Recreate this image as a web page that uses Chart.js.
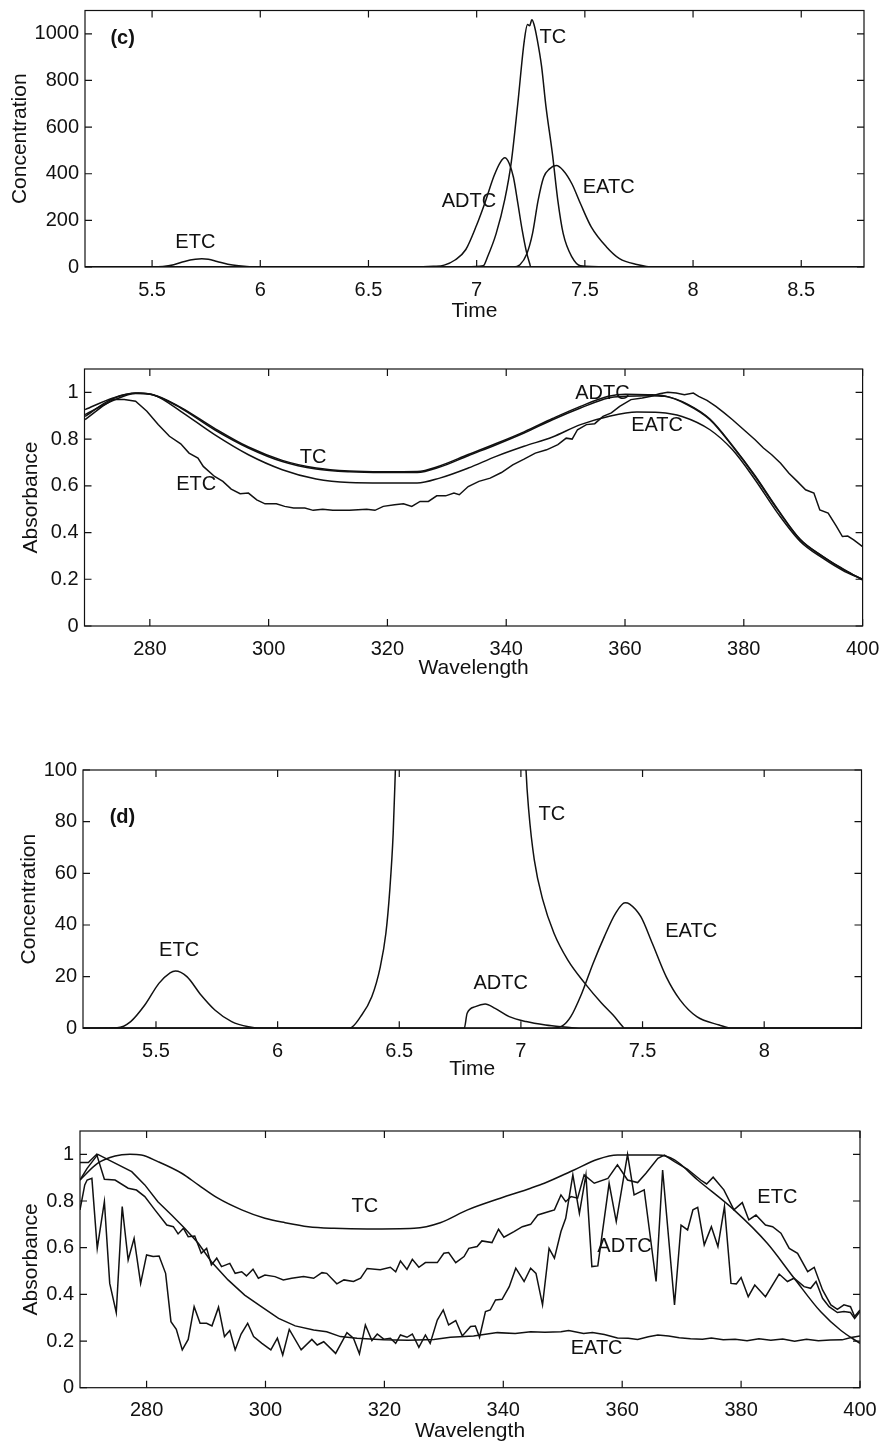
<!DOCTYPE html>
<html>
<head>
<meta charset="utf-8">
<script src="https://cdn.jsdelivr.net/npm/chart.js@4.4.1/dist/chart.umd.min.js"></script>
<style>
html, body { margin: 0; padding: 0; background: #fff; width: 883px; height: 1443px; overflow: hidden; }
canvas { position: absolute; left: 0; }
</style>
</head>
<body>
<canvas id="p1"></canvas>
<canvas id="p2"></canvas>
<canvas id="p3"></canvas>
<canvas id="p4"></canvas>
<script>
// ---- (c) concentration profiles ----
const etcTimeC = [5.19, 5.5, 5.55, 5.6, 5.65, 5.7, 5.73, 5.76, 5.8, 5.85, 5.9, 5.95, 6.0, 8.79]
const etcConcC = [0, 0, 2, 10, 24, 33, 35, 33, 24, 12, 5, 1, 0, 0]
const adtcTimeC = [5.19, 6.7, 6.8, 6.85, 6.9, 6.95, 7.0, 7.04, 7.08, 7.11, 7.13, 7.15, 7.17, 7.19, 7.21, 7.23, 7.245, 7.25, 8.79]
const adtcConcC = [0, 0, 3, 8, 30, 75, 180, 280, 390, 450, 468, 445, 385, 275, 160, 65, 15, 0, 0]
const tcTimeC = [5.19, 6.95, 7.03, 7.05, 7.09, 7.13, 7.16, 7.19, 7.22, 7.235, 7.245, 7.255, 7.265, 7.28, 7.30, 7.32, 7.35, 7.375, 7.40, 7.44, 7.48, 7.6, 8.79]
const tcConcC = [0, 0, 5, 43, 143, 290, 450, 700, 970, 1040, 1035, 1060, 1040, 975, 860, 690, 486, 286, 143, 43, 5, 0, 0]
const eatcTimeC = [5.19, 7.17, 7.2, 7.232, 7.258, 7.284, 7.31, 7.337, 7.368, 7.40, 7.44, 7.48, 7.53, 7.6, 7.66, 7.74, 7.82, 8.79]
const eatcConcC = [0, 0, 10, 57, 143, 286, 386, 421, 435, 414, 357, 271, 171, 86, 36, 11, 0, 0]

// ---- (c) spectra ----
const tcWlC = [269.1, 273.8, 277.6, 280.5, 285.2, 290.9, 296.6, 302.3, 308, 313.6, 319.3, 325, 328.8, 333.6, 338.3, 343, 347.8, 352.5, 357.2, 360.1, 363.9, 366.7, 370.5, 374.3, 378.1, 381.9, 385.7, 389.5, 393.3, 397, 400]
const tcAbsC = [0.926, 0.976, 0.997, 0.99, 0.933, 0.84, 0.762, 0.704, 0.672, 0.66, 0.657, 0.657, 0.68, 0.729, 0.776, 0.826, 0.883, 0.933, 0.976, 0.983, 0.986, 0.983, 0.947, 0.883, 0.769, 0.64, 0.497, 0.369, 0.297, 0.24, 0.197]
const adtcWlC = [269.1, 273.8, 277.6, 280.5, 285.2, 290.9, 296.6, 302.3, 308, 313.6, 319.3, 325, 328.8, 333.6, 338.3, 343, 347.8, 352.5, 357.2, 360.1, 363.9, 366.7, 370.5, 374.3, 378.1, 381.9, 385.7, 389.5, 393.3, 397, 400]
const adtcAbsC = [0.905, 0.965, 0.995, 0.99, 0.936, 0.846, 0.766, 0.709, 0.676, 0.663, 0.66, 0.661, 0.685, 0.734, 0.781, 0.831, 0.888, 0.94, 0.983, 0.992, 0.99, 0.985, 0.95, 0.886, 0.772, 0.643, 0.5, 0.371, 0.298, 0.238, 0.2]
const eatcWlC = [269.1, 273.5, 278.1, 281, 285.2, 290.9, 296.6, 302.3, 308, 313.6, 319.3, 325, 328.8, 333.6, 338.3, 343, 347.8, 352.5, 357.2, 362, 365.8, 369.6, 374.3, 378.1, 381.9, 385.7, 389.5, 393.3, 397, 400]
const eatcAbsC = [0.897, 0.97, 0.997, 0.985, 0.919, 0.819, 0.733, 0.669, 0.629, 0.614, 0.612, 0.612, 0.633, 0.676, 0.726, 0.769, 0.809, 0.862, 0.897, 0.916, 0.914, 0.897, 0.84, 0.754, 0.626, 0.483, 0.362, 0.29, 0.233, 0.2]
const etcWlC = [269.1, 272, 273.8, 275.7, 277.6, 279.5, 281.4, 283.3, 285.2, 286.6, 288.1, 289, 290.9, 292.3, 293.7, 295.2, 296.6, 298, 299.4, 301.3, 302.7, 304.2, 306.1, 307.5, 309.1, 310.8, 313.6, 316.5, 317.9, 319.3, 321.2, 322.7, 324.1, 325.5, 326.9, 328.3, 329.8, 331.2, 332.1, 333.6, 335.4, 337.3, 339.2, 341.1, 343, 344.9, 346.8, 348.7, 350.1, 351.1, 352, 353.5, 354.9, 356.3, 357.7, 359.1, 361, 362.9, 364.4, 365.8, 367.2, 368.6, 370, 371.5, 372.4, 373.8, 375.3, 376.7, 378.1, 380, 381.9, 383.3, 384.7, 386.2, 387.6, 389, 390.4, 391.8, 392.8, 394.2, 395.6, 396.6, 397.5, 398.5, 400]
const etcAbsC = [0.883, 0.94, 0.969, 0.969, 0.962, 0.919, 0.862, 0.812, 0.78, 0.74, 0.719, 0.683, 0.64, 0.619, 0.586, 0.566, 0.569, 0.54, 0.523, 0.523, 0.512, 0.505, 0.505, 0.495, 0.5, 0.495, 0.495, 0.5, 0.495, 0.512, 0.519, 0.523, 0.512, 0.533, 0.533, 0.557, 0.557, 0.569, 0.562, 0.597, 0.619, 0.633, 0.657, 0.69, 0.714, 0.74, 0.754, 0.776, 0.804, 0.8, 0.84, 0.862, 0.866, 0.897, 0.912, 0.94, 0.969, 0.976, 0.983, 0.994, 1.0, 0.997, 0.99, 0.997, 0.983, 0.966, 0.94, 0.912, 0.883, 0.84, 0.797, 0.762, 0.733, 0.697, 0.654, 0.619, 0.583, 0.569, 0.497, 0.483, 0.426, 0.383, 0.385, 0.369, 0.34]

// ---- (d) concentration profiles ----
const etcTimeD = [5.2, 5.34, 5.396, 5.454, 5.512, 5.558, 5.58, 5.627, 5.685, 5.742, 5.811, 5.88, 5.94, 8.4]
const etcConcD = [0, 0.2, 2.6, 9.0, 17.4, 21.5, 22.2, 20.0, 12.9, 7.1, 2.6, 0.6, 0, 0]
const tcTimeD = [5.2, 6.295, 6.341, 6.387, 6.422, 6.445, 6.461, 6.475, 6.484, 6.55, 6.65, 6.75, 6.85, 6.95, 7.021, 7.032, 7.055, 7.09, 7.136, 7.193, 7.263, 7.332, 7.378, 7.419, 7.425, 8.4]
const tcConcD = [0, 0, 4.5, 12.2, 23.8, 36.8, 53.5, 75.5, 100, 300, 800, 1050, 800, 300, 100, 84.5, 65.2, 49.7, 36.8, 26.4, 17.4, 9.7, 5.2, 0.6, 0, 0]
const adtcTimeD = [5.2, 6.767, 6.779, 6.813, 6.853, 6.894, 6.952, 7.021, 7.101, 7.17, 7.25, 8.4]
const adtcConcD = [0, 0, 5.8, 8.4, 9.4, 7.7, 4.5, 2.6, 1.3, 0.6, 0, 0]
const eatcTimeD = [5.2, 7.124, 7.17, 7.205, 7.25, 7.297, 7.343, 7.389, 7.428, 7.447, 7.493, 7.54, 7.597, 7.654, 7.723, 7.815, 7.87, 8.4]
const eatcConcD = [0, 0, 0.9, 4.5, 13.5, 25.2, 35.5, 44.5, 48.6, 48.1, 43.2, 32.9, 20, 11, 4.5, 1.3, 0, 0]

// ---- (d) spectra ----
const tcWlD = [268.8, 271.8, 274.7, 277.2, 279.1, 281.9, 285.9, 288.7, 292.0, 296.0, 299.9, 303.3, 307.2, 311.5, 317.1, 325, 329.4, 334, 339.5, 344.6, 346.9, 351.9, 355.9, 359.2, 366, 368.8, 372.7, 378.8, 384.4, 388.9, 393.4, 396.8, 400]
const tcAbsD = [0.89, 0.962, 0.993, 1.0, 0.997, 0.969, 0.919, 0.869, 0.812, 0.762, 0.726, 0.707, 0.69, 0.683, 0.68, 0.683, 0.707, 0.762, 0.812, 0.855, 0.876, 0.933, 0.979, 0.997, 0.997, 0.976, 0.89, 0.762, 0.619, 0.47, 0.325, 0.245, 0.19]
const eatcWlD = [268.8, 270.0, 271.8, 274.1, 277.5, 279.7, 281.9, 284.2, 286.4, 288.7, 290.9, 293.7, 296.5, 299.3, 302.2, 305, 308.1, 310.3, 312.6, 315.4, 319.9, 324, 328.3, 331.1, 335, 339, 342, 344.6, 347, 349.7, 351, 353.5, 355, 357, 359.2, 361, 362.6, 364.4, 366, 367.8, 369.6, 371.5, 373.5, 375, 377, 379, 381, 383, 385, 387, 389, 391, 393, 395, 397, 398.5, 400]
const eatcAbsD = [0.89, 0.94, 1.0, 0.97, 0.926, 0.869, 0.797, 0.74, 0.683, 0.619, 0.54, 0.462, 0.397, 0.347, 0.297, 0.265, 0.247, 0.24, 0.219, 0.212, 0.205, 0.203, 0.207, 0.216, 0.222, 0.236, 0.232, 0.24, 0.238, 0.24, 0.245, 0.232, 0.237, 0.228, 0.213, 0.212, 0.207, 0.218, 0.226, 0.222, 0.214, 0.21, 0.208, 0.213, 0.205, 0.208, 0.201, 0.21, 0.203, 0.209, 0.199, 0.208, 0.201, 0.204, 0.205, 0.215, 0.222]
const etcWlD = [268.8, 270.2, 271.6, 272.9, 274.7, 276.9, 278.3, 279.7, 281.4, 283.4, 284.5, 285.3, 286.2, 287.0, 288.1, 289.2, 290.1, 290.9, 291.8, 292.6, 294.0, 294.9, 296.0, 296.8, 297.9, 298.8, 299.9, 301.6, 303.0, 304.4, 306.4, 308.1, 309.5, 310.3, 312.0, 313.2, 314.8, 316.0, 317.1, 319.3, 321.0, 321.9, 322.7, 323.8, 324.7, 325.8, 326.9, 328.9, 330.0, 330.8, 332.0, 333.4, 334.2, 335.6, 336.4, 338.1, 339.2, 340.1, 341.8, 343.2, 344.6, 345.8, 347.7, 348.6, 349.7, 350.5, 351.4, 352.5, 353.6, 355.3, 357.6, 359.2, 360.9, 362.6, 364.0, 366.0, 367.1, 368.8, 371.0, 373.2, 374.2, 375.3, 377.1, 378.8, 380.2, 381.3, 382.5, 384.1, 385.3, 386.7, 388.1, 389.5, 391.2, 392.3, 393.7, 395.1, 396.2, 397.3, 398.4, 399.1, 400]
const etcAbsD = [0.965, 0.965, 1.0, 0.893, 0.89, 0.855, 0.847, 0.819, 0.762, 0.697, 0.69, 0.659, 0.683, 0.647, 0.65, 0.576, 0.597, 0.526, 0.555, 0.519, 0.533, 0.49, 0.497, 0.479, 0.508, 0.469, 0.483, 0.476, 0.462, 0.469, 0.476, 0.469, 0.493, 0.49, 0.445, 0.462, 0.455, 0.469, 0.511, 0.505, 0.516, 0.497, 0.543, 0.507, 0.55, 0.516, 0.536, 0.536, 0.576, 0.579, 0.536, 0.562, 0.597, 0.605, 0.629, 0.622, 0.679, 0.645, 0.669, 0.69, 0.70, 0.74, 0.755, 0.762, 0.826, 0.797, 0.819, 0.812, 0.912, 0.876, 0.897, 0.955, 0.89, 0.879, 0.919, 0.983, 0.997, 0.969, 0.936, 0.89, 0.873, 0.902, 0.848, 0.762, 0.793, 0.719, 0.74, 0.697, 0.69, 0.662, 0.597, 0.576, 0.497, 0.516, 0.419, 0.355, 0.336, 0.355, 0.347, 0.305, 0.333]
const adtcWlD = [268.8, 269.6, 270.0, 270.8, 271.7, 272.9, 273.8, 274.9, 275.9, 276.9, 277.9, 279.0, 280.0, 281.1, 282.1, 283.2, 284.1, 285.0, 286.0, 287.0, 288.0, 289.0, 290.1, 291.0, 292.1, 293.1, 294.0, 294.9, 295.9, 297.0, 298.0, 299.4, 300.9, 302.0, 302.9, 304.0, 306.0, 307.8, 308.7, 309.8, 311.8, 313.7, 314.8, 315.8, 316.8, 317.9, 318.8, 319.9, 321.0, 321.9, 322.7, 323.8, 324.7, 325.8, 326.9, 327.7, 328.9, 329.9, 330.8, 332.0, 333.1, 334.5, 335.3, 336.0, 337.0, 337.8, 338.7, 339.8, 341.0, 342.1, 343.5, 344.6, 345.5, 346.6, 347.7, 348.6, 349.7, 350.5, 351.7, 352.8, 353.9, 354.9, 355.9, 357.8, 359.0, 360.9, 362.0, 363.7, 365.7, 366.8, 368.8, 369.9, 371.0, 371.9, 372.7, 373.8, 375.0, 376.1, 377.2, 378.3, 379.2, 380.0, 381.2, 382.3, 384.1, 386.4, 387.8, 388.9, 390.6, 391.7, 392.6, 393.7, 394.8, 396.2, 397.3, 398.4, 399.1, 400]
const adtcAbsD = [0.762, 0.869, 0.89, 0.897, 0.597, 0.797, 0.447, 0.322, 0.776, 0.547, 0.64, 0.447, 0.569, 0.562, 0.564, 0.49, 0.283, 0.25, 0.162, 0.207, 0.347, 0.276, 0.276, 0.265, 0.345, 0.219, 0.245, 0.162, 0.23, 0.276, 0.219, 0.19, 0.162, 0.212, 0.14, 0.25, 0.162, 0.207, 0.183, 0.197, 0.147, 0.236, 0.212, 0.145, 0.269, 0.202, 0.23, 0.208, 0.212, 0.19, 0.226, 0.216, 0.23, 0.173, 0.226, 0.19, 0.29, 0.333, 0.269, 0.288, 0.222, 0.262, 0.264, 0.216, 0.326, 0.333, 0.376, 0.379, 0.433, 0.512, 0.455, 0.512, 0.49, 0.355, 0.597, 0.555, 0.669, 0.726, 0.912, 0.747, 0.912, 0.519, 0.522, 0.876, 0.712, 1.0, 0.826, 0.848, 0.455, 0.933, 0.355, 0.697, 0.676, 0.762, 0.773, 0.612, 0.69, 0.605, 0.776, 0.447, 0.445, 0.472, 0.39, 0.44, 0.39, 0.487, 0.455, 0.469, 0.433, 0.426, 0.455, 0.383, 0.347, 0.322, 0.326, 0.322, 0.297, 0.326]

// tick values
const timeTicksC = [5.5, 6, 6.5, 7, 7.5, 8, 8.5]
const timeTicksD = [5.5, 6, 6.5, 7, 7.5, 8]
const concTicksC = [0, 200, 400, 600, 800, 1000]
const concTicksD = [0, 20, 40, 60, 80, 100]
const wlTicks = [280, 300, 320, 340, 360, 380, 400]
const absTicks = [0, 0.2, 0.4, 0.6, 0.8, 1]

const INK = '#111'
const FONT = '"Liberation Sans", Arial, sans-serif'
Chart.defaults.font.family = FONT
Chart.defaults.font.size = 20
Chart.defaults.color = INK

// box, inward tick marks and in-plot labels (matlab style)
const frame = {
  id: 'frame',
  afterDatasetsDraw(chart, args, opts) {
    const { ctx, chartArea: a, scales: { x, y } } = chart
    ctx.save()
    ctx.strokeStyle = INK
    ctx.lineWidth = 1.2
    ctx.strokeRect(a.left, a.top, a.right - a.left, a.bottom - a.top)
    ctx.beginPath()
    x.ticks.forEach(t => {
      const px = x.getPixelForValue(t.value)
      ctx.moveTo(px, a.bottom); ctx.lineTo(px, a.bottom - 7)
      ctx.moveTo(px, a.top); ctx.lineTo(px, a.top + 7)
    })
    y.ticks.forEach(t => {
      const py = y.getPixelForValue(t.value)
      ctx.moveTo(a.left, py); ctx.lineTo(a.left + 7, py)
      ctx.moveTo(a.right, py); ctx.lineTo(a.right - 7, py)
    })
    ctx.stroke()
    ctx.fillStyle = INK
    ctx.textAlign = 'center'
    ctx.textBaseline = 'middle'
    ;(opts.labels || []).forEach(l => {
      ctx.font = (l.bold ? 'bold ' : '') + '20px ' + FONT
      ctx.fillText(l.text, x.getPixelForValue(l.x), y.getPixelForValue(l.y))
    })
    ctx.restore()
  }
}

function series(xs, ys, smooth) {
  return {
    data: xs.map((v, i) => ({ x: v, y: ys[i] })),
    showLine: true,
    pointRadius: 0,
    borderColor: INK,
    borderWidth: 1.5,
    tension: 0,
    cubicInterpolationMode: smooth ? 'monotone' : 'default'
  }
}

function panel(id, box, xr, yr, datasets, labels, xTitle, yTitle) {
  const cv = document.getElementById(id)
  const top = Math.round(box.top) - 16
  const h = Math.round(box.xTitleY + 13) - top
  cv.width = 883
  cv.height = h
  cv.style.top = top + 'px'
  const padLeft = box.yTitleX - 12
  new Chart(cv, {
    type: 'scatter',
    data: { datasets },
    options: {
      responsive: false,
      animation: false,
      events: [],
      layout: { padding: { top: box.top - top, right: 883 - box.right, bottom: 0, left: padLeft } },
      plugins: { legend: { display: false }, tooltip: { enabled: false }, frame: { labels } },
      scales: {
        x: {
          type: 'linear', min: xr.min, max: xr.max,
          grid: { display: false, drawTicks: false }, border: { display: false },
          afterBuildTicks: s => { s.ticks = xr.ticks.map(v => ({ value: v })) },
          afterFit: s => {
            s.height = h - (box.bottom - top)
            s.paddingLeft = 0
            s.paddingRight = 0
          },
          ticks: { padding: 11, maxRotation: 0, autoSkip: false, callback: v => String(v) },
          title: { display: true, text: xTitle, padding: { top: 0, bottom: 1 }, font: { size: 21 } }
        },
        y: {
          type: 'linear', min: yr.min, max: yr.max,
          grid: { display: false, drawTicks: false }, border: { display: false },
          afterBuildTicks: s => { s.ticks = yr.ticks.map(v => ({ value: v })) },
          afterFit: s => {
            s.width = box.left - padLeft
            s.paddingTop = 0
            s.paddingBottom = 0
          },
          ticks: { padding: 6, autoSkip: false, callback: v => String(v) },
          title: { display: true, text: yTitle, padding: 0, font: { size: 21 } }
        }
      }
    },
    plugins: [frame]
  })
}

panel('p1',
  { left: 85, right: 864, top: 10.5, bottom: 267, yTitleX: 20, xTitleY: 311.5 },
  { min: 5.19, max: 8.79, ticks: timeTicksC },
  { min: 0, max: 1100, ticks: concTicksC },
  [series(etcTimeC, etcConcC, true), series(adtcTimeC, adtcConcC, true),
   series(tcTimeC, tcConcC, true), series(eatcTimeC, eatcConcC, true)],
  [{ text: '(c)', x: 5.364, y: 982, bold: true }, { text: 'TC', x: 7.352, y: 986 },
   { text: 'ADTC', x: 6.964, y: 279 }, { text: 'EATC', x: 7.61, y: 343 }, { text: 'ETC', x: 5.70, y: 107 }],
  'Time', 'Concentration')

panel('p2',
  { left: 84.5, right: 862.6, top: 369, bottom: 626, yTitleX: 31, xTitleY: 669 },
  { min: 269, max: 400, ticks: wlTicks },
  { min: 0, max: 1.1, ticks: absTicks },
  [series(tcWlC, tcAbsC, true), series(adtcWlC, adtcAbsC, true),
   series(eatcWlC, eatcAbsC, true), series(etcWlC, etcAbsC, false)],
  [{ text: 'TC', x: 307.5, y: 0.723 }, { text: 'ETC', x: 287.8, y: 0.607 },
   { text: 'ADTC', x: 356.2, y: 0.997 }, { text: 'EATC', x: 365.4, y: 0.859 }],
  'Wavelength', 'Absorbance')

panel('p3',
  { left: 83, right: 861.5, top: 770, bottom: 1028.3, yTitleX: 29, xTitleY: 1070 },
  { min: 5.2, max: 8.4, ticks: timeTicksD },
  { min: 0, max: 100, ticks: concTicksD },
  [series(etcTimeD, etcConcD, true), series(tcTimeD, tcConcD, true),
   series(adtcTimeD, adtcConcD, true), series(eatcTimeD, eatcConcD, true)],
  [{ text: '(d)', x: 5.362, y: 81.7, bold: true }, { text: 'TC', x: 7.127, y: 82.6 },
   { text: 'ETC', x: 5.595, y: 30.3 }, { text: 'ADTC', x: 6.917, y: 17.3 }, { text: 'EATC', x: 7.70, y: 37.3 }],
  'Time', 'Concentration')

panel('p4',
  { left: 80, right: 860, top: 1131, bottom: 1387.7, yTitleX: 31, xTitleY: 1431.5 },
  { min: 268.8, max: 400, ticks: wlTicks },
  { min: 0, max: 1.1, ticks: absTicks },
  [series(tcWlD, tcAbsD, true), series(eatcWlD, eatcAbsD, false),
   series(etcWlD, etcAbsD, false), series(adtcWlD, adtcAbsD, false)],
  [{ text: 'TC', x: 316.7, y: 0.778 }, { text: 'ETC', x: 386.1, y: 0.816 },
   { text: 'ADTC', x: 360.4, y: 0.607 }, { text: 'EATC', x: 355.7, y: 0.169 }],
  'Wavelength', 'Absorbance')
</script>
</body>
</html>
